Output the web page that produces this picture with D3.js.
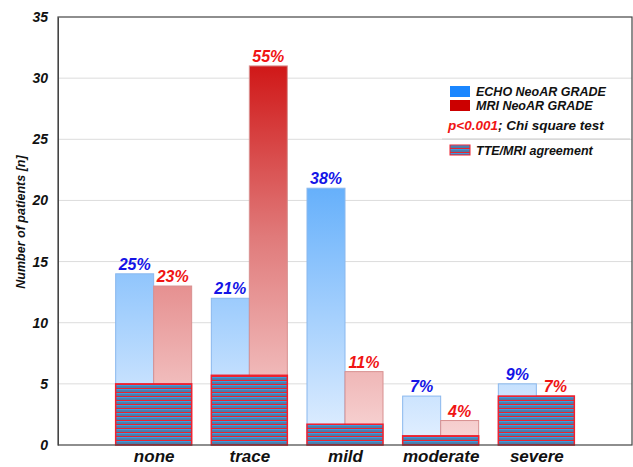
<!DOCTYPE html>
<html><head><meta charset="utf-8">
<script src="https://cdn.jsdelivr.net/npm/d3@7"></script>
<style>body{margin:0;background:#fff}svg{display:block;font-family:"Liberation Sans",Arial,sans-serif}</style>
</head><body><svg id="c" width="633" height="467"></svg>
<script>
const categories = ["none","trace","mild","moderate","severe"];
const echo = [14,12,21,4,5];
const mri = [13,31,6,2,4];
const agreement = [5,5.7,1.7,0.75,4];
const echoPct = ["25%","21%","38%","7%","9%"];
const mriPct = ["23%","55%","11%","4%","7%"];
const yTicks = [0,5,10,15,20,25,30,35];

const svg = d3.select("#c");
const L=58,R=632,T=17,B=445;
const x = d3.scaleLinear().domain([0,6]).range([L,R]);
const y = d3.scaleLinear().domain([0,35]).range([B,T]);
const bw = 38;

const defs = svg.append("defs");
const gb = defs.append("linearGradient").attr("id","gb").attr("gradientUnits","userSpaceOnUse")
  .attr("x1",0).attr("x2",0).attr("y1",y(35)).attr("y2",y(0));
gb.append("stop").attr("offset",0).attr("stop-color","#2a8cff");
gb.append("stop").attr("offset",0.4).attr("stop-color","#66b0fb");
gb.append("stop").attr("offset",1).attr("stop-color","#e4f0ff");
const gr = defs.append("linearGradient").attr("id","gr").attr("gradientUnits","userSpaceOnUse")
  .attr("x1",0).attr("x2",0).attr("y1",y(31)).attr("y2",y(0));
gr.append("stop").attr("offset",0).attr("stop-color","#d01818");
gr.append("stop").attr("offset",0.45).attr("stop-color","#e07a7a");
gr.append("stop").attr("offset",1).attr("stop-color","#f8d8d8");
const pt = defs.append("pattern").attr("id","pt").attr("patternUnits","userSpaceOnUse")
  .attr("width",8).attr("height",4);
pt.append("rect").attr("width",8).attr("height",4).attr("fill","#4f7aa6");
pt.append("rect").attr("y",0).attr("width",8).attr("height",1).attr("fill","#ea2430");
pt.append("rect").attr("y",1).attr("width",8).attr("height",1.2).attr("fill","#3a9be0");

svg.append("g").selectAll("line").data(yTicks.filter(d=>d>0&&d<35)).join("line")
  .attr("x1",L).attr("x2",R).attr("y1",d=>y(d)).attr("y2",d=>y(d))
  .attr("stroke","#dcdcdc").attr("stroke-width",1);

const idx = d3.range(categories.length);
svg.append("g").selectAll("rect").data(idx).join("rect")
  .attr("x",i=>x(i+1)-bw).attr("width",bw)
  .attr("y",i=>y(echo[i])).attr("height",i=>y(0)-y(echo[i]))
  .attr("fill","url(#gb)").attr("stroke","#8ab8ee").attr("stroke-width",1);
svg.append("g").selectAll("rect").data(idx).join("rect")
  .attr("x",i=>x(i+1)).attr("width",bw)
  .attr("y",i=>y(mri[i])).attr("height",i=>y(0)-y(mri[i]))
  .attr("fill","url(#gr)").attr("stroke","#d89090").attr("stroke-width",1);
svg.append("g").selectAll("rect").data(idx).join("rect")
  .attr("x",i=>x(i+1)-bw).attr("width",bw*2)
  .attr("y",i=>y(agreement[i])).attr("height",i=>y(0)-y(agreement[i]))
  .attr("fill","url(#pt)").attr("stroke","#ee2230").attr("stroke-width",1.5);

svg.append("g").selectAll("text").data(idx).join("text")
  .attr("x",i=>x(i+1)-bw/2).attr("y",i=>y(echo[i])-4).attr("text-anchor","middle")
  .attr("font-size",16).attr("font-weight","bold").attr("font-style","italic")
  .attr("fill","#1414e6").text(i=>echoPct[i]);
svg.append("g").selectAll("text").data(idx).join("text")
  .attr("x",i=>x(i+1)+bw/2).attr("y",i=>y(mri[i])-4).attr("text-anchor","middle")
  .attr("font-size",16).attr("font-weight","bold").attr("font-style","italic")
  .attr("fill","#f01414").text(i=>mriPct[i]);

svg.append("rect").attr("x",L).attr("y",T).attr("width",R-L).attr("height",B-T)
  .attr("fill","none").attr("stroke","#444").attr("stroke-width",1.2);

const ya = svg.append("g").attr("transform",`translate(${L},0)`)
  .call(d3.axisLeft(y).tickValues(yTicks).tickSize(0).tickPadding(10).tickFormat(d3.format("d")));
ya.select(".domain").attr("stroke","#444");
ya.selectAll("text").attr("font-size",14).attr("font-weight","bold").attr("font-style","italic")
  .attr("fill","#111").attr("font-family","Liberation Sans, Arial, sans-serif");

const xa = svg.append("g").attr("transform",`translate(0,${B})`)
  .call(d3.axisBottom(x).tickValues([1,2,3,4,5]).tickSize(0).tickPadding(5).tickFormat(d=>categories[d-1]));
xa.select(".domain").remove();
xa.selectAll("text").attr("font-size",17).attr("font-weight","bold").attr("font-style","italic")
  .attr("fill","#111").attr("font-family","Liberation Sans, Arial, sans-serif");

svg.append("text").attr("transform","translate(25,222) rotate(-90)").attr("text-anchor","middle")
  .attr("font-size",12.5).attr("font-weight","bold").attr("font-style","italic").attr("fill","#111")
  .text("Number of patients [n]");

const lg = svg.append("g");
const fs = 12.5;
lg.append("rect").attr("x",450).attr("y",86).attr("width",20).attr("height",11).attr("fill","#1a86ff");
lg.append("text").attr("x",476).attr("y",96).attr("font-size",fs).attr("font-weight","bold").attr("font-style","italic").attr("fill","#111").text("ECHO NeoAR GRADE");
lg.append("rect").attr("x",450).attr("y",100).attr("width",20).attr("height",11).attr("fill","#cc0000");
lg.append("text").attr("x",476).attr("y",110).attr("font-size",fs).attr("font-weight","bold").attr("font-style","italic").attr("fill","#111").text("MRI NeoAR GRADE");
const pl = lg.append("text").attr("x",448).attr("y",130).attr("font-size",13.5).attr("font-weight","bold").attr("font-style","italic").attr("fill","#111");
pl.append("tspan").attr("fill","#f01414").text("p<0.001");
pl.append("tspan").text("; Chi square test");
lg.append("line").attr("x1",442).attr("x2",630).attr("y1",139).attr("y2",139).attr("stroke","#d0d0d0");
lg.append("rect").attr("x",450).attr("y",145).attr("width",20).attr("height",10).attr("fill","url(#pt)").attr("stroke","#ee2230").attr("stroke-width",1);
lg.append("text").attr("x",476).attr("y",155).attr("font-size",fs).attr("font-weight","bold").attr("font-style","italic").attr("fill","#111").text("TTE/MRI agreement");
</script></body></html>
